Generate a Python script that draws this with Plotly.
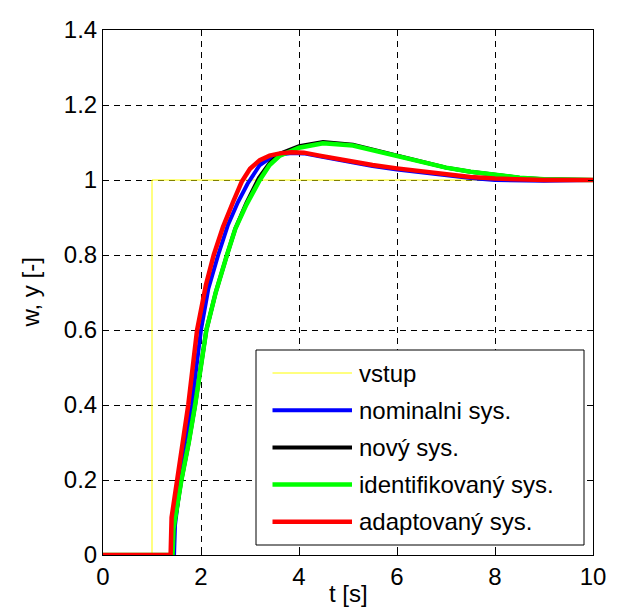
import plotly.graph_objects as go

# ---- data ----
t_vstup = [0, 1.0, 1.0, 10]
y_vstup = [0, 0, 1, 1]

t_nom = [0, 1.45, 1.47, 1.55, 1.65, 1.81, 2.0, 2.15, 2.35, 2.55, 2.75, 2.95, 3.2, 3.4, 3.61, 3.85, 4.1, 4.42, 5.1, 5.5, 6.0, 6.5, 7.0, 7.5, 8.0, 8.5, 9.0, 10]
y_nom = [0, 0, 0.08, 0.17, 0.27, 0.4, 0.6, 0.71, 0.8, 0.88, 0.94, 0.99, 1.04, 1.058, 1.068, 1.072, 1.071, 1.063, 1.046, 1.037, 1.028, 1.02, 1.012, 1.005, 1.0, 0.998, 0.998, 1.0]

t_novy = [0, 1.42, 1.44, 1.6, 1.75, 1.88, 2.11, 2.3, 2.53, 2.7, 2.93, 3.18, 3.4, 3.61, 4.0, 4.49, 5.1, 5.5, 6.0, 6.46, 7.0, 7.5, 8.0, 8.5, 9.0, 10]
y_novy = [0, 0, 0.07, 0.2, 0.3, 0.4, 0.6, 0.7, 0.8, 0.87, 0.94, 1.005, 1.045, 1.07, 1.09, 1.101, 1.094, 1.081, 1.063, 1.049, 1.033, 1.022, 1.013, 1.006, 1.002, 1.0]

t_ident = [0, 1.42, 1.44, 1.6, 1.75, 1.88, 2.11, 2.3, 2.53, 2.7, 2.93, 3.2, 3.4, 3.61, 4.0, 4.49, 5.1, 5.5, 6.0, 6.46, 7.0, 7.5, 8.0, 8.5, 9.0, 10]
y_ident = [0, 0, 0.07, 0.2, 0.3, 0.4, 0.6, 0.7, 0.8, 0.87, 0.935, 1.0, 1.04, 1.065, 1.086, 1.098, 1.092, 1.08, 1.062, 1.049, 1.033, 1.022, 1.013, 1.006, 1.002, 1.0]

t_adapt = [0, 1.38, 1.40, 1.51, 1.6, 1.74, 1.92, 2.1, 2.26, 2.45, 2.65, 2.83, 3.0, 3.2, 3.4, 3.61, 3.85, 4.1, 4.42, 4.75, 5.1, 5.5, 6.0, 6.46, 7.0, 7.5, 8.0, 8.5, 9.0, 10.0]
y_adapt = [0, 0, 0.1, 0.2, 0.27, 0.4, 0.6, 0.72, 0.8, 0.875, 0.94, 0.995, 1.03, 1.053, 1.065, 1.071, 1.074, 1.073, 1.065, 1.057, 1.049, 1.04, 1.031, 1.024, 1.015, 1.008, 1.004, 1.001, 1.0, 1.0]

names = ["vstup", "nominalni sys.", "nový sys.", "identifikovaný sys.", "adaptovaný sys."]
colors = ["#FFFF00", "#0000FF", "#000000", "#00FF00", "#FF0000"]
widths = [1, 4, 4, 4.5, 4.5]
series = [(t_vstup, y_vstup), (t_nom, y_nom), (t_novy, y_novy), (t_ident, y_ident), (t_adapt, y_adapt)]

x_ticks = [0, 2, 4, 6, 8, 10]
y_ticks = [0, 0.2, 0.4, 0.6, 0.8, 1.0, 1.2, 1.4]
y_tick_text = ["0", "0.2", "0.4", "0.6", "0.8", "1", "1.2", "1.4"]
x_title = "t [s]"
y_title = "w, y [-]"

FONT = "Liberation Sans, Arial, sans-serif"
FS = 24

fig = go.Figure()
for (tx, ty), n, c, w in zip(series, names, colors, widths):
    fig.add_trace(go.Scatter(x=tx, y=ty, mode="lines", name=n,
                             line=dict(color=c, width=w), showlegend=False))

# pixel -> paper helpers
L, R, T, B = 103, 26, 30, 54
PW, PH = 619 - L - R, 609 - T - B
def px(x):
    return (x - L) / PW
def py(y):
    return (609 - B - y) / PH

# manual legend (MATLAB style)
fig.add_shape(type="rect", xref="paper", yref="paper",
              x0=px(256), x1=px(584), y0=py(545), y1=py(350),
              line=dict(color="black", width=1), fillcolor="white", layer="above")
row0 = 373
step = 37.2
for i, (n, c, w) in enumerate(zip(names, colors, widths)):
    yy = py(row0 + i * step)
    fig.add_shape(type="line", xref="paper", yref="paper",
                  x0=px(272.5), x1=px(352), y0=yy, y1=yy,
                  line=dict(color=c, width=w), layer="above")
    fig.add_annotation(xref="paper", yref="paper", x=px(357), y=yy,
                       text=n, showarrow=False, xanchor="left", yanchor="middle",
                       font=dict(family=FONT, size=FS, color="black"))

# axis titles
fig.add_annotation(xref="paper", yref="paper", x=0.5, y=py(609),
                   text=x_title, showarrow=False, xanchor="center", yanchor="bottom",
                   font=dict(family=FONT, size=FS, color="black"))
fig.add_annotation(xref="paper", yref="paper", x=px(30), y=0.5, textangle=-90,
                   text=y_title, showarrow=False, xanchor="center", yanchor="middle",
                   font=dict(family=FONT, size=FS, color="black"))

axis_common = dict(showline=True, linecolor="black", linewidth=1, mirror="ticks",
                   ticks="inside", ticklen=5, tickcolor="black",
                   showgrid=True, gridcolor="black", gridwidth=1, griddash="6px,5px",
                   zeroline=False, automargin=False,
                   tickfont=dict(family=FONT, size=FS, color="black"))

fig.update_xaxes(range=[0, 10], tickvals=x_ticks, ticktext=[str(v) for v in x_ticks],
                 **axis_common)
fig.update_yaxes(range=[0, 1.4], tickvals=y_ticks, ticktext=y_tick_text,
                 **axis_common)

fig.update_layout(width=619, height=609, margin=dict(l=L, r=R, t=T, b=B),
                  paper_bgcolor="white", plot_bgcolor="white", showlegend=False)

fig.write_html("out.html")
